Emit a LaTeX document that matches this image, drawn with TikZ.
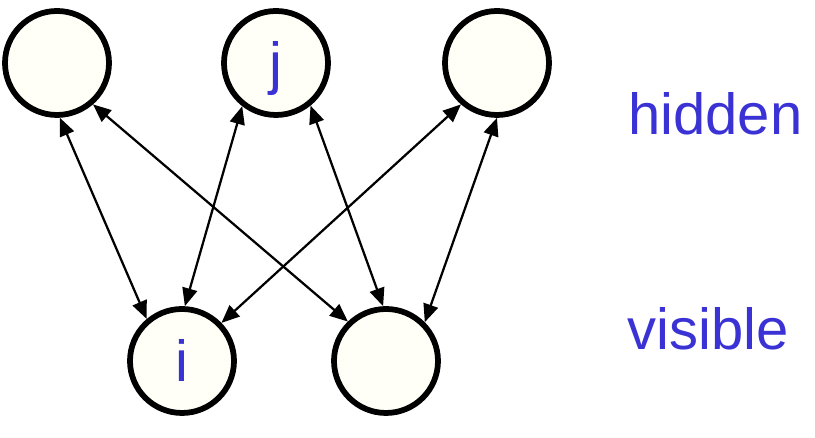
\documentclass[tikz,border=0pt]{standalone}
\usepackage{fontspec}
\setmainfont{Liberation Sans}
\usetikzlibrary{arrows.meta}
\definecolor{unitfill}{RGB}{255,255,247}
\definecolor{labelblue}{RGB}{58,50,212}

\begin{document}
\begin{tikzpicture}[
    u/.style={circle, draw=black, line width=0.115cm, fill=unitfill, minimum size=2.08cm, inner sep=0pt, text=labelblue, font=\fontsize{33}{38}\selectfont, text depth=0pt},
    w/.style={line width=0.045cm, {Triangle[length=0.36cm,width=0.3cm]}-{Triangle[length=0.36cm,width=0.3cm]}},
    lbl/.style={anchor=base west, inner sep=0pt, text=labelblue, font=\fontsize{33}{38}\selectfont}]
  \useasboundingbox (0,0) rectangle (16.3,8.76);
  % hidden layer
  \node[u] (h1) at (1.14,7.5) {};
  \node[u] (h2) at (5.52,7.5) {j};
  \node[u] (h3) at (9.94,7.5) {};
  % visible layer
  \node[u] (v1) at (3.64,1.54) {i};
  \node[u] (v2) at (7.72,1.54) {};
  \foreach \a/\b in {h1.-87/v1.130, h1.-49/v2.134, h2.-128/v1.87, h2.-51/v2.93, h3.-131/v1.44, h3.-90/v2.45}
    \draw[w] (\a) -- (\b);
  \node[lbl] (hid) at (12.56,6.06) {hidden};
  \node[lbl] (vis) at (12.54,1.76) {visible};
\end{tikzpicture}
\end{document}
